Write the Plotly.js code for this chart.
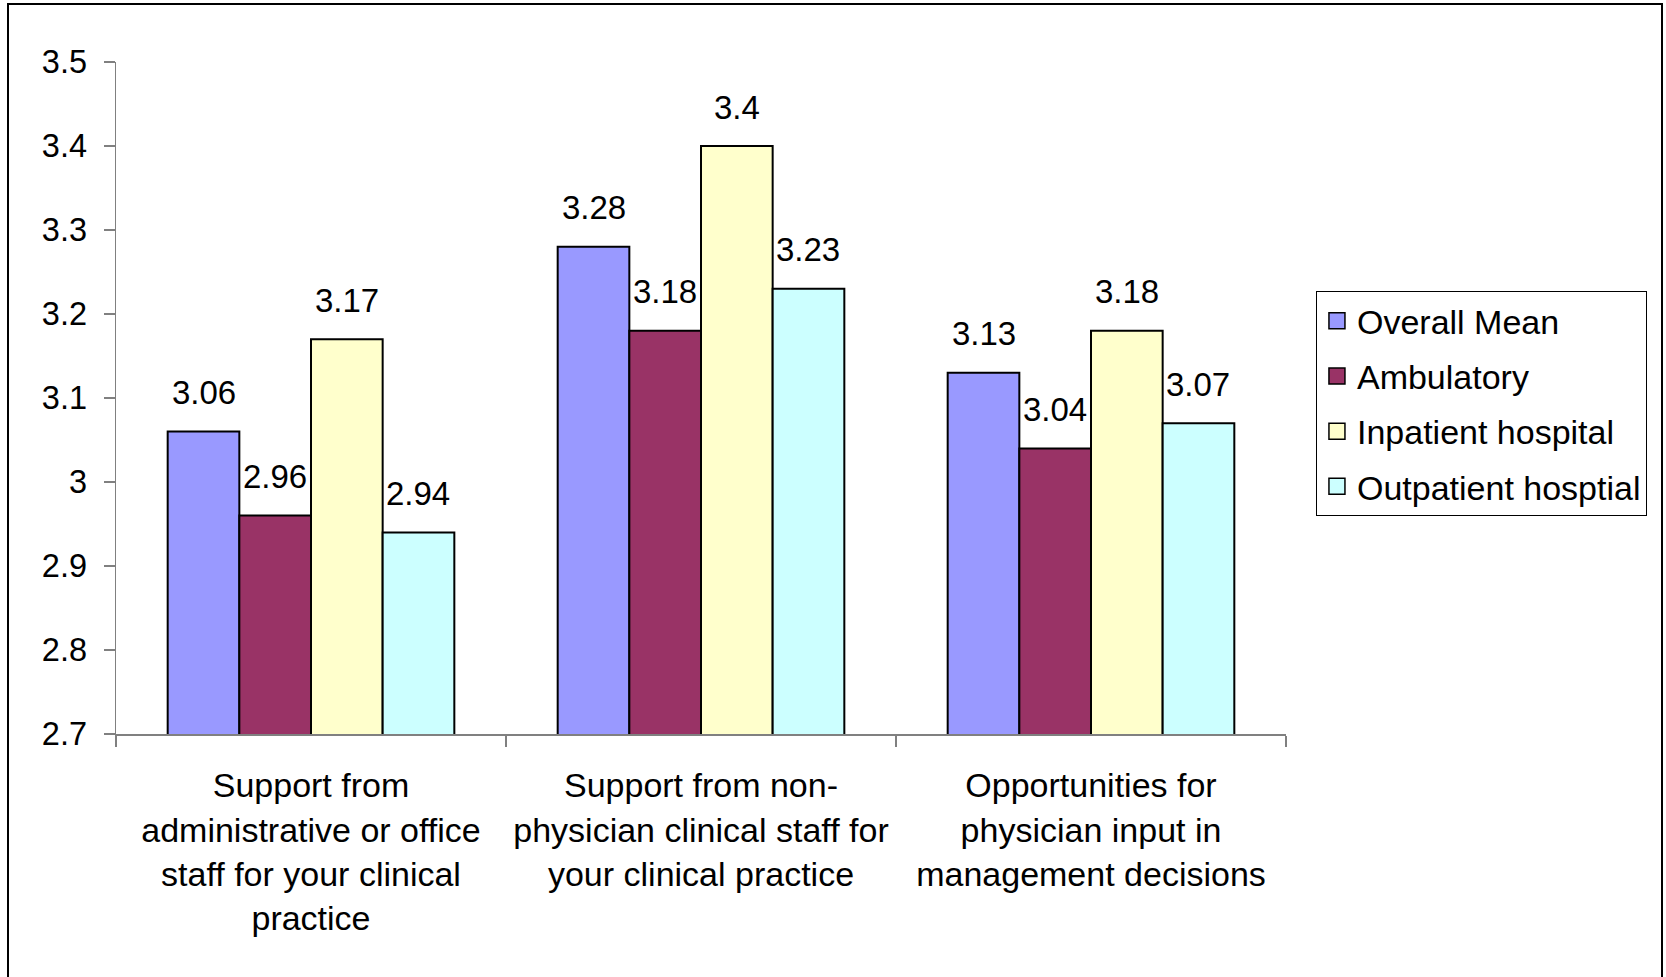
<!DOCTYPE html>
<html>
<head>
<meta charset="utf-8">
<script src="https://cdn.plot.ly/plotly-3.0.1.min.js"></script>
<style>
  html, body { margin: 0; padding: 0; background: #ffffff; overflow: hidden; }
  #frame { position: absolute; left: 7px; top: 3px; width: 1652px; height: 1100px; border: 2px solid #000; box-sizing: content-box; }
  #chart { position: absolute; left: 0; top: 0; width: 1666px; height: 977px; }
</style>
</head>
<body>
<div id="frame"></div>
<div id="chart"></div>
<script>
// ---- data ----
const categories = [
  "Support from<br>administrative or office<br>staff for your clinical<br>practice",
  "Support from non-<br>physician clinical staff for<br>your clinical practice",
  "Opportunities for<br>physician input in<br>management decisions"
];
const seriesNames = ["Overall Mean", "Ambulatory", "Inpatient hospital", "Outpatient hosptial"];
const overallMean = [3.06, 3.28, 3.13];
const ambulatory  = [2.96, 3.18, 3.04];
const inpatient   = [3.17, 3.40, 3.18];
const outpatient  = [2.94, 3.23, 3.07];
const yTickVals = [2.7, 2.8, 2.9, 3.0, 3.1, 3.2, 3.3, 3.4, 3.5];
const yTickText = ["2.7", "2.8", "2.9", "3", "3.1", "3.2", "3.3", "3.4", "3.5"];

// ---- styling ----
const colors = ["#9999FF", "#993366", "#FFFFCC", "#CCFFFF"];
const FONT = "Liberation Sans, Arial, Helvetica, sans-serif";
const seriesValues = [overallMean, ambulatory, inpatient, outpatient];
const BARGAP = 0.265;
const nSeries = seriesValues.length;
const barW = (1 - BARGAP) / nSeries;

const traces = [];
seriesValues.forEach((vals, i) => {
  traces.push({
    type: "bar",
    name: seriesNames[i],
    legendgroup: "g" + i,
    x: categories,
    y: vals,
    marker: { color: colors[i], line: { color: "#000", width: 2 } },
    showlegend: false,
    hoverinfo: "x+y+name"
  });
});
// legend entries (larger square swatches)
seriesValues.forEach((vals, i) => {
  traces.push({
    type: "scatter",
    mode: "markers",
    name: seriesNames[i],
    legendgroup: "g" + i,
    x: [null],
    y: [null],
    marker: { symbol: "square", size: 16, color: colors[i], line: { color: "#000", width: 1.5 } },
    showlegend: true,
    hoverinfo: "skip"
  });
});

// data labels above bars
const annotations = [];
seriesValues.forEach((vals, i) => {
  vals.forEach((v, j) => {
    annotations.push({
      x: j + (i - (nSeries - 1) / 2) * barW,
      y: v,
      xref: "x", yref: "y",
      text: String(v),
      showarrow: false,
      xanchor: "center",
      yanchor: "middle",
      yshift: 39,
      font: { family: FONT, size: 33, color: "#000" }
    });
  });
});

const layout = {
  width: 1666,
  height: 977,
  paper_bgcolor: "rgba(0,0,0,0)",
  plot_bgcolor: "rgba(0,0,0,0)",
  margin: { l: 116, r: 380, t: 62, b: 243, pad: 0 },
  barmode: "group",
  bargap: BARGAP,
  bargroupgap: 0,
  showlegend: true,
  font: { family: FONT, size: 32, color: "#000" },
  xaxis: {
    type: "category",
    automargin: false,
    showline: true,
    linecolor: "#808080",
    linewidth: 1.5,
    ticks: "outside",
    tickson: "boundaries",
    ticklen: 11,
    tickwidth: 1.5,
    tickcolor: "#808080",
    showgrid: false,
    zeroline: false,
    tickfont: { family: FONT, size: 34, color: "#000" },
    ticklabelstandoff: 21
  },
  yaxis: {
    range: [2.7, 3.5],
    automargin: false,
    tickmode: "array",
    tickvals: yTickVals,
    ticktext: yTickText,
    showline: true,
    linecolor: "#808080",
    linewidth: 1.5,
    ticks: "outside",
    ticklen: 11,
    tickwidth: 1.5,
    tickcolor: "#808080",
    showgrid: false,
    zeroline: false,
    tickfont: { family: FONT, size: 32.5, color: "#000" },
    ticklabelstandoff: 10
  },
  legend: {
    x: 1.0256,
    y: 0.659,
    xanchor: "left",
    yanchor: "top",
    bgcolor: "#ffffff",
    bordercolor: "#000",
    borderwidth: 1,
    tracegroupgap: 8,
    traceorder: "grouped",
    font: { family: FONT, size: 34, color: "#000" }
  },
  annotations: annotations
};

Plotly.newPlot("chart", traces, layout, { displayModeBar: false, staticPlot: true });
</script>
</body>
</html>
